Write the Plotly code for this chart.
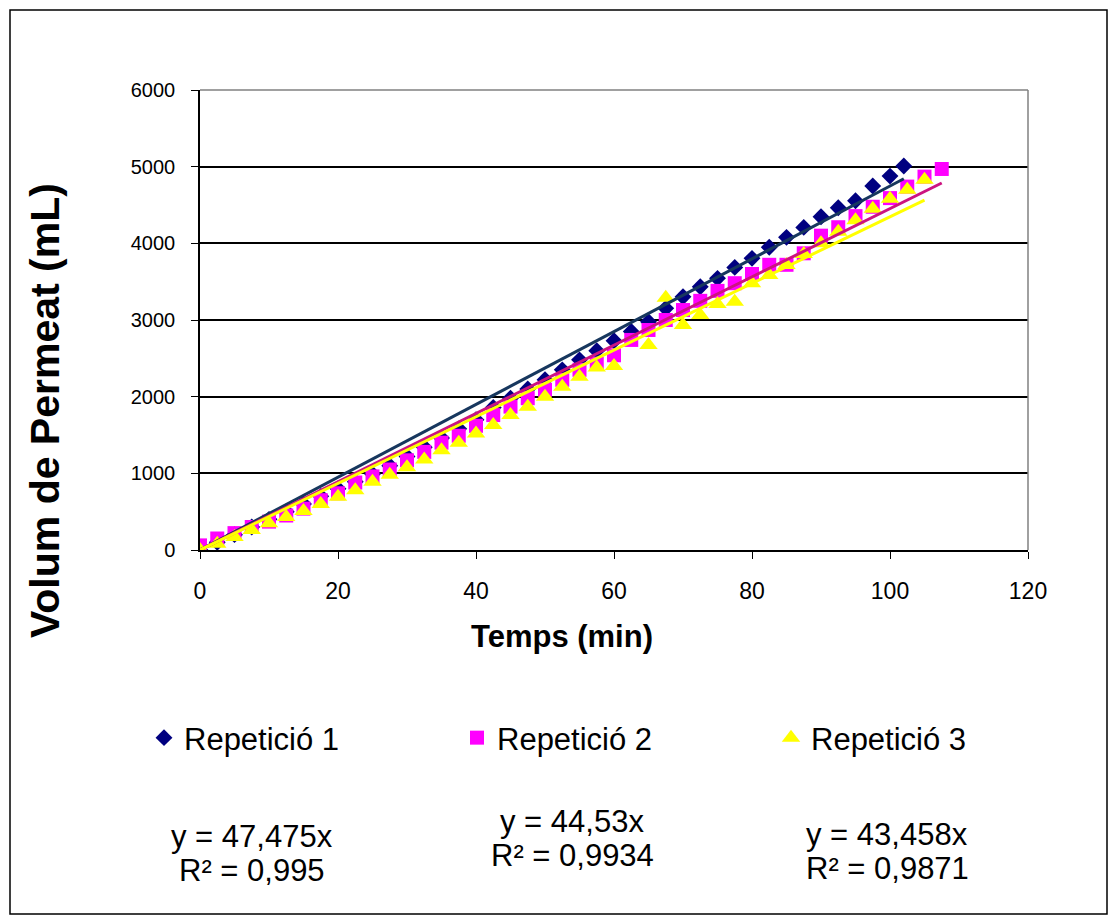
import plotly.graph_objects as go

# ---------------- data ----------------
t1 = [0, 2.5, 5, 7.5, 10, 12.5, 15, 17.5, 20, 22.5, 25, 27.5, 30, 32.5, 35, 37.5, 40,
      42.5, 45, 47.5, 50, 52.5, 55, 57.5, 60, 62.5, 65, 67.5, 70, 72.5, 75, 77.5, 80,
      82.5, 85, 87.5, 90, 92.5, 95, 97.5, 100, 102]
v1 = [0, 100, 200, 300, 400, 500, 600, 700, 800, 890, 990, 1100, 1220, 1340, 1460, 1580, 1700,
      1860, 1980, 2100, 2220, 2350, 2480, 2600, 2730, 2850, 2977, 3152, 3303, 3434, 3543, 3686, 3804,
      3948, 4078, 4208, 4346, 4464, 4555, 4747, 4877, 5008]

t2 = [0, 2.5, 5, 7.5, 10, 12.5, 15, 17.5, 20, 22.5, 25, 27.5, 30, 32.5, 35, 37.5, 40,
      42.5, 45, 47.5, 50, 52.5, 55, 57.5, 60, 62.5, 65, 67.5, 70, 72.5, 75, 77.5, 80,
      82.5, 85, 87.5, 90, 92.5, 95, 97.5, 100, 102.5, 105, 107.5]
v2 = [60, 150, 220, 300, 370, 450, 540, 650, 740, 880, 960, 1050, 1170, 1280, 1400, 1490, 1620,
      1760, 1870, 1980, 2090, 2220, 2350, 2430, 2540, 2740, 2870, 3000, 3130, 3250, 3380, 3480, 3600,
      3720, 3720, 3870, 4100, 4210, 4355, 4477, 4590, 4740, 4870, 4970]

t3 = [0, 2.5, 5, 7.5, 10, 12.5, 15, 17.5, 20, 22.5, 25, 27.5, 30, 32.5, 35, 37.5, 40,
      42.5, 45, 47.5, 50, 52.5, 55, 57.5, 60, 65, 67.5, 70, 72.5, 75, 77.5, 80,
      82.5, 85, 87.5, 90, 92.5, 95, 97.5, 100, 102.5, 105]
v3 = [0, 80, 170, 260, 350, 430, 510, 600, 695, 780, 890, 980, 1080, 1180, 1300, 1400, 1520,
      1630, 1760, 1870, 2000, 2130, 2260, 2380, 2400, 2673, 3290, 2934, 3064, 3208, 3238, 3478,
      3586, 3717, 3860, 4000, 4150, 4300, 4450, 4580, 4700, 4830]

names = ["Repetició 1", "Repetició 2", "Repetició 3"]
slopes = [47.475, 44.53, 43.458]
r2 = ["0,995", "0,9934", "0,9871"]
slope_txt = ["47,475", "44,53", "43,458"]

x_ticks = [0, 20, 40, 60, 80, 100, 120]
y_ticks = [0, 1000, 2000, 3000, 4000, 5000, 6000]

# ---------------- figure ----------------
W, H = 1111, 918
L, R, T, B = 200, 1028, 90, 550
pw, ph = R - L, B - T

def px_x(p):
    return (p - L) / pw

def px_y(p):
    return (B - p) / ph

FONT = "Liberation Sans, Arial, sans-serif"
fig = go.Figure()

marker_styles = [
    dict(symbol="diamond", size=13, color="#000080"),
    dict(symbol="square", size=14, color="#FF00FF"),
    dict(symbol="triangle-up", size=16, color="#FFFF00"),
]
line_colors = ["#17375E", "#CC1480", "#FFFF00"]
legend_ids = ["legend", "legend2", "legend3"]
legend_x = [144, 457, 771]

for t, v, n, ms, lg in zip([t1, t2, t3], [v1, v2, v3], names, marker_styles, legend_ids):
    fig.add_trace(go.Scatter(x=t, y=v, mode="markers", name=n, legend=lg,
                             marker=dict(symbol=ms["symbol"], size=ms["size"], color=ms["color"],
                                         line=dict(width=0))))

for t, s, c in zip([t1, t2, t3], slopes, line_colors):
    xe = [0, t[-1]]
    fig.add_trace(go.Scatter(x=xe, y=[s * xe[0], s * xe[1]], mode="lines",
                             line=dict(color=c, width=3), showlegend=False, hoverinfo="skip"))

fig.update_xaxes(range=[0, 120], tickvals=x_ticks, ticks="outside", ticklen=7, tickwidth=1,
                 tickcolor="black", showline=True, linecolor="black", linewidth=1.5,
                 showgrid=False, zeroline=False, ticklabelstandoff=13,
                 tickfont=dict(family=FONT, size=23, color="black"))
fig.update_yaxes(range=[0, 6000], tickvals=y_ticks, ticks="outside", ticklen=7, tickwidth=1,
                 tickcolor="black", showline=True, linecolor="black", linewidth=1.5,
                 showgrid=True, gridcolor="black", gridwidth=1.5, zeroline=False,
                 ticklabelstandoff=12,
                 tickfont=dict(family=FONT, size=20, color="black"))

shapes = [
    dict(type="line", xref="paper", yref="paper", x0=0, x1=1, y0=1, y1=1,
         line=dict(color="#808080", width=1.5), layer="above"),
    dict(type="line", xref="paper", yref="paper", x0=1, x1=1, y0=0, y1=1,
         line=dict(color="#808080", width=1.5), layer="above"),
    dict(type="rect", xref="paper", yref="paper",
         x0=px_x(10), x1=px_x(1107), y0=px_y(914), y1=px_y(10),
         line=dict(color="black", width=1.5), fillcolor="rgba(0,0,0,0)", layer="below"),
]

annotations = [
    dict(text="<b>Temps (min)</b>", x=px_x(562), y=px_y(636), xref="paper", yref="paper",
         showarrow=False, font=dict(family=FONT, size=31, color="black"),
         xanchor="center", yanchor="middle"),
    dict(text="<b>Volum de Permeat (mL)</b>", x=px_x(45), y=px_y(411), xref="paper", yref="paper",
         showarrow=False, textangle=-90, font=dict(family=FONT, size=41, color="black"),
         xanchor="center", yanchor="middle"),
]
eq_pos = [(252, 836), (572, 821), (887, 834)]
for (cx, cy), s, r in zip(eq_pos, slope_txt, r2):
    annotations.append(dict(text=f"y = {s}x", x=px_x(cx), y=px_y(cy),
                            xref="paper", yref="paper", showarrow=False,
                            font=dict(family=FONT, size=31, color="black"),
                            xanchor="center", yanchor="middle"))
    annotations.append(dict(text=f"R² = {r}", x=px_x(cx), y=px_y(cy + 34),
                            xref="paper", yref="paper", showarrow=False,
                            font=dict(family=FONT, size=31, color="black"),
                            xanchor="center", yanchor="middle"))

legend_common = dict(orientation="h", xref="container", yref="container",
                     xanchor="left", yanchor="middle",
                     font=dict(family=FONT, size=31, color="black"),
                     bgcolor="rgba(0,0,0,0)", itemsizing="trace")

fig.update_layout(
    width=W, height=H,
    margin=dict(l=L, r=W - R, t=T, b=H - B, pad=0),
    paper_bgcolor="white", plot_bgcolor="white",
    shapes=shapes, annotations=annotations,
    showlegend=True,
    legend=dict(x=legend_x[0] / W, y=1 - 738 / H, **legend_common),
    legend2=dict(x=legend_x[1] / W, y=1 - 738 / H, **legend_common),
    legend3=dict(x=legend_x[2] / W, y=1 - 738 / H, **legend_common),
)

fig.write_html("out.html", config={"displayModeBar": False},
               post_script="document.body.style.margin='0';")
